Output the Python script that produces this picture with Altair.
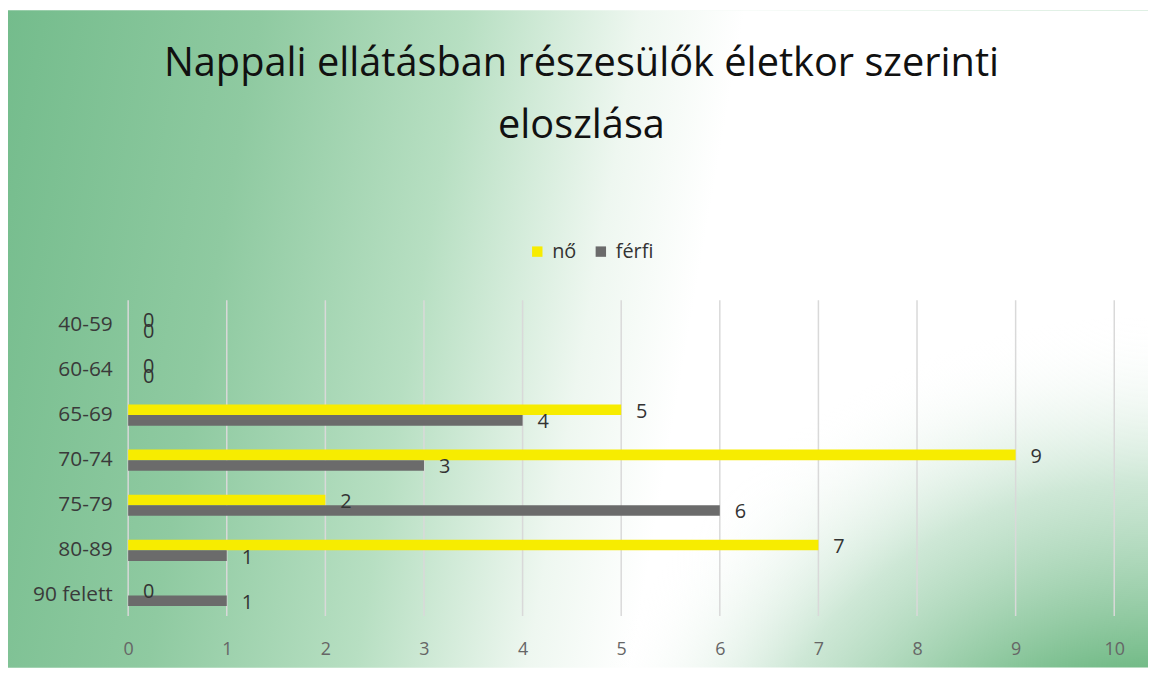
import altair as alt
import pandas as pd

categories = ["40-59", "60-64", "65-69", "70-74", "75-79", "80-89", "90 felett"]
series = ["nő", "férfi"]
no_values = [0, 0, 5, 9, 2, 7, 0]
ferfi_values = [0, 0, 4, 3, 6, 1, 1]
x_ticks = list(range(0, 11))
colors = ["#f7ec00", "#6b6b6b"]

rows = []
for c, v in zip(categories, no_values):
    rows.append({"Kategória": c, "Nem": "nő", "Érték": v})
for c, v in zip(categories, ferfi_values):
    rows.append({"Kategória": c, "Nem": "férfi", "Érték": v})
df = pd.DataFrame(rows)
grid_df = pd.DataFrame({"tick": x_ticks})

W, H = 993, 312
PL, PT, PR, PB = 121, 297, 34, 53
FONT = "Open Sans"

bg_lin = alt.Chart(alt.Data(values=[{"a": 1}])).mark_rect(
    color=alt.Gradient(
        gradient="linear",
        x1=0, y1=0, x2=1, y2=0.1,
        stops=[
            alt.GradientStop(offset=0, color="#74bc8c"),
            alt.GradientStop(offset=0.22, color="#8fcaa1"),
            alt.GradientStop(offset=0.4, color="#b7dfc2"),
            alt.GradientStop(offset=0.55, color="#eef7f0"),
            alt.GradientStop(offset=0.64, color="#ffffff"),
            alt.GradientStop(offset=1, color="#ffffff"),
        ],
    )
).encode(
    x=alt.value(-PL), x2=alt.value(W + PR),
    y=alt.value(-PT), y2=alt.value(H + PB),
)

bg_rad = alt.Chart(alt.Data(values=[{"a": 1}])).mark_rect(
    color=alt.Gradient(
        gradient="radial",
        x1=1, y1=1, r1=0, x2=1, y2=1, r2=0.52,
        stops=[
            alt.GradientStop(offset=0, color="rgba(80,165,105,1)"),
            alt.GradientStop(offset=0.4, color="rgba(105,182,127,0.95)"),
            alt.GradientStop(offset=0.72, color="rgba(165,212,180,0.55)"),
            alt.GradientStop(offset=1, color="rgba(255,255,255,0)"),
        ],
    )
).encode(
    x=alt.value(-PL), x2=alt.value(W + PR),
    y=alt.value(-PT), y2=alt.value(H + PB),
)

grid = alt.Chart(grid_df).mark_rule(color="#d9d9d9", strokeWidth=1.5).encode(
    x=alt.X("tick:Q"),
    y=alt.value(-5), y2=alt.value(H + 1),
)

y_enc = alt.Y(
    "Kategória:N", sort=categories, title=None,
    scale=alt.Scale(paddingInner=0.53),
    axis=alt.Axis(labelFont=FONT, labelFontSize=21, labelColor="#3a3a3a",
                  ticks=False, domain=False, labelPadding=16, grid=False,
                  zindex=1),
)
yoff = alt.YOffset("Nem:N", sort=series)
x_enc = alt.X(
    "Érték:Q", title=None,
    scale=alt.Scale(domain=[0, 10], nice=False),
    axis=alt.Axis(values=x_ticks, labelFont=FONT, labelFontSize=18,
                  labelColor="#666666", ticks=False, domain=False,
                  labelPadding=26, labelFlush=False, grid=False, format="d",
                  zindex=1),
)

bars = alt.Chart(df).mark_bar().encode(
    y=y_enc, yOffset=yoff, x=x_enc,
    color=alt.Color(
        "Nem:N",
        scale=alt.Scale(domain=series, range=colors),
        legend=alt.Legend(
            title=None, orient="none", direction="horizontal",
            legendX=402, legendY=-64, symbolType="square", symbolSize=110,
            symbolStrokeWidth=0, labelFont=FONT, labelFontSize=20,
            labelColor="#333333", columnPadding=14, labelOffset=5,
        ),
    ),
)

labels = alt.Chart(df).mark_text(
    align="left", baseline="middle", dx=15, dy=2, font=FONT, fontSize=20,
    color="#333333",
).encode(
    y=alt.Y("Kategória:N", sort=categories), yOffset=yoff,
    x="Érték:Q", text="Érték:Q",
)

chart = alt.layer(bg_lin, bg_rad, grid, bars, labels).properties(
    width=W, height=H,
    padding={"left": PL, "top": PT, "right": PR, "bottom": PB},
    autosize=alt.AutoSizeParams(type="none"),
    title=alt.TitleParams(
        text=["Nappali ellátásban részesülők életkor szerinti", "eloszlása"],
        font=FONT, fontSize=40, fontWeight="normal", color="#111111",
        lineHeight=63, anchor="middle", dx=-40, offset=-137,
    ),
).configure_view(stroke=None).configure(background="#ffffff")

chart.save("out.html", embed_options={"renderer": "svg", "actions": False})
